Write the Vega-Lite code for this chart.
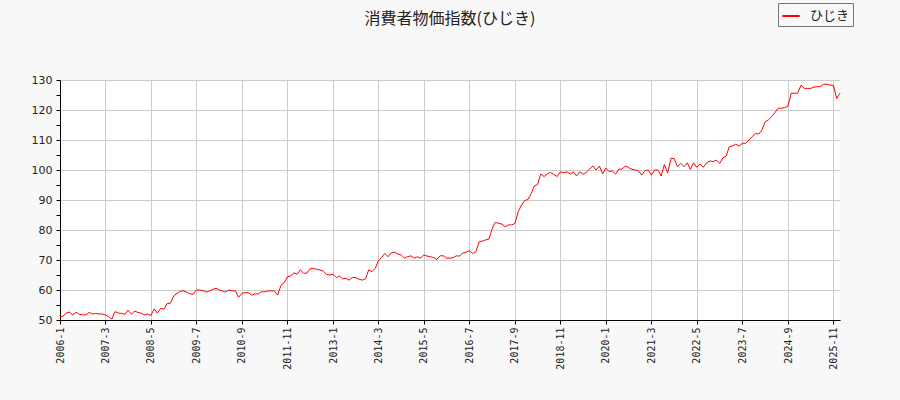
{
  "$schema": "https://vega.github.io/schema/vega-lite/v6.json",
  "width": 780,
  "height": 240,
  "autosize": "none",
  "padding": {"left": 60, "top": 80, "right": 60, "bottom": 80},
  "background": "#f8f8f8",
  "title": {
    "text": "消費者物価指数(ひじき)",
    "font": "Noto Sans CJK JP",
    "fontSize": 16,
    "fontWeight": "normal",
    "color": "#222222",
    "anchor": "middle",
    "baseline": "middle",
    "offset": -32
  },
  "config": {
    "view": {"fill": "#ffffff", "stroke": null},
    "axis": {
      "domainColor": "#000000",
      "tickColor": "#000000",
      "gridColor": "#cccccc",
      "labelColor": "#222222",
      "titleColor": "#222222"
    }
  },
  "data": {
    "values": [
      {"date": "2006-01-01", "value": 51.1}, {"date": "2006-02-01", "value": 51.3}, {"date": "2006-03-01", "value": 52.4}, {"date": "2006-04-01", "value": 52.6},
      {"date": "2006-05-01", "value": 51.7}, {"date": "2006-06-01", "value": 52.6}, {"date": "2006-07-01", "value": 51.9}, {"date": "2006-08-01", "value": 51.7},
      {"date": "2006-09-01", "value": 51.7}, {"date": "2006-10-01", "value": 52.6}, {"date": "2006-11-01", "value": 52.0}, {"date": "2006-12-01", "value": 52.2},
      {"date": "2007-01-01", "value": 52.0}, {"date": "2007-02-01", "value": 52.0}, {"date": "2007-03-01", "value": 51.7}, {"date": "2007-04-01", "value": 51.1},
      {"date": "2007-05-01", "value": 50.3}, {"date": "2007-06-01", "value": 52.8}, {"date": "2007-07-01", "value": 52.3}, {"date": "2007-08-01", "value": 52.2},
      {"date": "2007-09-01", "value": 51.9}, {"date": "2007-10-01", "value": 53.3}, {"date": "2007-11-01", "value": 51.9}, {"date": "2007-12-01", "value": 53.0},
      {"date": "2008-01-01", "value": 52.5}, {"date": "2008-02-01", "value": 52.3}, {"date": "2008-03-01", "value": 51.7}, {"date": "2008-04-01", "value": 52.0},
      {"date": "2008-05-01", "value": 51.5}, {"date": "2008-06-01", "value": 53.7}, {"date": "2008-07-01", "value": 52.3}, {"date": "2008-08-01", "value": 53.9},
      {"date": "2008-09-01", "value": 53.6}, {"date": "2008-10-01", "value": 55.5}, {"date": "2008-11-01", "value": 55.6}, {"date": "2008-12-01", "value": 58.0},
      {"date": "2009-01-01", "value": 58.9}, {"date": "2009-02-01", "value": 59.6}, {"date": "2009-03-01", "value": 59.7}, {"date": "2009-04-01", "value": 59.3},
      {"date": "2009-05-01", "value": 58.7}, {"date": "2009-06-01", "value": 58.6}, {"date": "2009-07-01", "value": 60.0}, {"date": "2009-08-01", "value": 60.0},
      {"date": "2009-09-01", "value": 59.8}, {"date": "2009-10-01", "value": 59.3}, {"date": "2009-11-01", "value": 59.7}, {"date": "2009-12-01", "value": 60.2},
      {"date": "2010-01-01", "value": 60.6}, {"date": "2010-02-01", "value": 60.0}, {"date": "2010-03-01", "value": 59.7}, {"date": "2010-04-01", "value": 59.3},
      {"date": "2010-05-01", "value": 60.0}, {"date": "2010-06-01", "value": 59.7}, {"date": "2010-07-01", "value": 59.7}, {"date": "2010-08-01", "value": 57.6},
      {"date": "2010-09-01", "value": 58.9}, {"date": "2010-10-01", "value": 59.1}, {"date": "2010-11-01", "value": 59.1}, {"date": "2010-12-01", "value": 58.3},
      {"date": "2011-01-01", "value": 58.7}, {"date": "2011-02-01", "value": 58.7}, {"date": "2011-03-01", "value": 59.4}, {"date": "2011-04-01", "value": 59.4},
      {"date": "2011-05-01", "value": 59.7}, {"date": "2011-06-01", "value": 59.7}, {"date": "2011-07-01", "value": 59.7}, {"date": "2011-08-01", "value": 58.3},
      {"date": "2011-09-01", "value": 61.5}, {"date": "2011-10-01", "value": 62.4}, {"date": "2011-11-01", "value": 64.4}, {"date": "2011-12-01", "value": 64.7},
      {"date": "2012-01-01", "value": 65.7}, {"date": "2012-02-01", "value": 65.3}, {"date": "2012-03-01", "value": 66.7}, {"date": "2012-04-01", "value": 65.6},
      {"date": "2012-05-01", "value": 65.6}, {"date": "2012-06-01", "value": 67.1}, {"date": "2012-07-01", "value": 67.2}, {"date": "2012-08-01", "value": 66.9},
      {"date": "2012-09-01", "value": 66.7}, {"date": "2012-10-01", "value": 66.3}, {"date": "2012-11-01", "value": 65.2}, {"date": "2012-12-01", "value": 65.0},
      {"date": "2013-01-01", "value": 65.3}, {"date": "2013-02-01", "value": 64.1}, {"date": "2013-03-01", "value": 64.7}, {"date": "2013-04-01", "value": 63.7},
      {"date": "2013-05-01", "value": 63.9}, {"date": "2013-06-01", "value": 63.3}, {"date": "2013-07-01", "value": 64.2}, {"date": "2013-08-01", "value": 64.1},
      {"date": "2013-09-01", "value": 63.6}, {"date": "2013-10-01", "value": 63.3}, {"date": "2013-11-01", "value": 63.7}, {"date": "2013-12-01", "value": 66.7},
      {"date": "2014-01-01", "value": 66.1}, {"date": "2014-02-01", "value": 67.2}, {"date": "2014-03-01", "value": 69.7}, {"date": "2014-04-01", "value": 70.9},
      {"date": "2014-05-01", "value": 72.2}, {"date": "2014-06-01", "value": 71.1}, {"date": "2014-07-01", "value": 72.4}, {"date": "2014-08-01", "value": 72.6},
      {"date": "2014-09-01", "value": 72.0}, {"date": "2014-10-01", "value": 71.7}, {"date": "2014-11-01", "value": 70.6}, {"date": "2014-12-01", "value": 71.1},
      {"date": "2015-01-01", "value": 71.4}, {"date": "2015-02-01", "value": 70.6}, {"date": "2015-03-01", "value": 71.1}, {"date": "2015-04-01", "value": 70.6},
      {"date": "2015-05-01", "value": 71.7}, {"date": "2015-06-01", "value": 71.3}, {"date": "2015-07-01", "value": 71.1}, {"date": "2015-08-01", "value": 70.8},
      {"date": "2015-09-01", "value": 70.2}, {"date": "2015-10-01", "value": 71.4}, {"date": "2015-11-01", "value": 71.4}, {"date": "2015-12-01", "value": 70.6},
      {"date": "2016-01-01", "value": 70.6}, {"date": "2016-02-01", "value": 70.8}, {"date": "2016-03-01", "value": 71.4}, {"date": "2016-04-01", "value": 71.3},
      {"date": "2016-05-01", "value": 72.4}, {"date": "2016-06-01", "value": 72.6}, {"date": "2016-07-01", "value": 73.1}, {"date": "2016-08-01", "value": 72.2},
      {"date": "2016-09-01", "value": 72.8}, {"date": "2016-10-01", "value": 76.1}, {"date": "2016-11-01", "value": 76.3}, {"date": "2016-12-01", "value": 76.7},
      {"date": "2017-01-01", "value": 77.0}, {"date": "2017-02-01", "value": 80.6}, {"date": "2017-03-01", "value": 82.6}, {"date": "2017-04-01", "value": 82.2},
      {"date": "2017-05-01", "value": 82.0}, {"date": "2017-06-01", "value": 81.1}, {"date": "2017-07-01", "value": 81.7}, {"date": "2017-08-01", "value": 81.7},
      {"date": "2017-09-01", "value": 82.2}, {"date": "2017-10-01", "value": 86.1}, {"date": "2017-11-01", "value": 88.3}, {"date": "2017-12-01", "value": 89.8},
      {"date": "2018-01-01", "value": 90.2}, {"date": "2018-02-01", "value": 92.2}, {"date": "2018-03-01", "value": 94.7}, {"date": "2018-04-01", "value": 95.2},
      {"date": "2018-05-01", "value": 98.7}, {"date": "2018-06-01", "value": 97.8}, {"date": "2018-07-01", "value": 98.7}, {"date": "2018-08-01", "value": 99.2},
      {"date": "2018-09-01", "value": 98.5}, {"date": "2018-10-01", "value": 97.8}, {"date": "2018-11-01", "value": 99.4}, {"date": "2018-12-01", "value": 99.1},
      {"date": "2019-01-01", "value": 99.4}, {"date": "2019-02-01", "value": 98.6}, {"date": "2019-03-01", "value": 99.4}, {"date": "2019-04-01", "value": 98.0},
      {"date": "2019-05-01", "value": 99.4}, {"date": "2019-06-01", "value": 98.6}, {"date": "2019-07-01", "value": 99.2}, {"date": "2019-08-01", "value": 100.3},
      {"date": "2019-09-01", "value": 101.4}, {"date": "2019-10-01", "value": 100.0}, {"date": "2019-11-01", "value": 101.3}, {"date": "2019-12-01", "value": 98.7},
      {"date": "2020-01-01", "value": 100.6}, {"date": "2020-02-01", "value": 99.4}, {"date": "2020-03-01", "value": 99.7}, {"date": "2020-04-01", "value": 98.6},
      {"date": "2020-05-01", "value": 100.3}, {"date": "2020-06-01", "value": 100.3}, {"date": "2020-07-01", "value": 101.4}, {"date": "2020-08-01", "value": 100.8},
      {"date": "2020-09-01", "value": 100.2}, {"date": "2020-10-01", "value": 100.0}, {"date": "2020-11-01", "value": 99.7}, {"date": "2020-12-01", "value": 98.3},
      {"date": "2021-01-01", "value": 99.8}, {"date": "2021-02-01", "value": 100.0}, {"date": "2021-03-01", "value": 98.3}, {"date": "2021-04-01", "value": 100.0},
      {"date": "2021-05-01", "value": 100.0}, {"date": "2021-06-01", "value": 98.0}, {"date": "2021-07-01", "value": 101.8}, {"date": "2021-08-01", "value": 99.0},
      {"date": "2021-09-01", "value": 103.9}, {"date": "2021-10-01", "value": 103.8}, {"date": "2021-11-01", "value": 101.1}, {"date": "2021-12-01", "value": 102.2},
      {"date": "2022-01-01", "value": 101.1}, {"date": "2022-02-01", "value": 102.4}, {"date": "2022-03-01", "value": 100.2}, {"date": "2022-04-01", "value": 102.4},
      {"date": "2022-05-01", "value": 100.9}, {"date": "2022-06-01", "value": 102.0}, {"date": "2022-07-01", "value": 100.9}, {"date": "2022-08-01", "value": 102.4},
      {"date": "2022-09-01", "value": 103.0}, {"date": "2022-10-01", "value": 102.8}, {"date": "2022-11-01", "value": 103.3}, {"date": "2022-12-01", "value": 102.2},
      {"date": "2023-01-01", "value": 104.1}, {"date": "2023-02-01", "value": 104.7}, {"date": "2023-03-01", "value": 107.8}, {"date": "2023-04-01", "value": 108.0},
      {"date": "2023-05-01", "value": 108.6}, {"date": "2023-06-01", "value": 108.0}, {"date": "2023-07-01", "value": 108.9}, {"date": "2023-08-01", "value": 108.9},
      {"date": "2023-09-01", "value": 110.0}, {"date": "2023-10-01", "value": 111.1}, {"date": "2023-11-01", "value": 112.2}, {"date": "2023-12-01", "value": 112.0},
      {"date": "2024-01-01", "value": 113.3}, {"date": "2024-02-01", "value": 116.1}, {"date": "2024-03-01", "value": 116.7}, {"date": "2024-04-01", "value": 117.8},
      {"date": "2024-05-01", "value": 119.1}, {"date": "2024-06-01", "value": 120.6}, {"date": "2024-07-01", "value": 120.6}, {"date": "2024-08-01", "value": 120.8},
      {"date": "2024-09-01", "value": 121.3}, {"date": "2024-10-01", "value": 125.6}, {"date": "2024-11-01", "value": 125.6}, {"date": "2024-12-01", "value": 125.6},
      {"date": "2025-01-01", "value": 128.3}, {"date": "2025-02-01", "value": 127.2}, {"date": "2025-03-01", "value": 127.2}, {"date": "2025-04-01", "value": 127.2},
      {"date": "2025-05-01", "value": 127.6}, {"date": "2025-06-01", "value": 127.8}, {"date": "2025-07-01", "value": 127.8}, {"date": "2025-08-01", "value": 128.6},
      {"date": "2025-09-01", "value": 128.6}, {"date": "2025-10-01", "value": 128.3}, {"date": "2025-11-01", "value": 128.2}, {"date": "2025-12-01", "value": 123.8},
      {"date": "2026-01-01", "value": 125.6}
    ]
  },
  "mark": {"type": "line", "strokeWidth": 1, "interpolate": "linear"},
  "encoding": {
    "x": {
      "field": "date",
      "type": "temporal",
      "scale": {
        "type": "utc",
        "nice": false,
        "domain": [{"year": 2006, "month": 1, "date": 1, "utc": true}, {"year": 2026, "month": 1, "date": 1, "utc": true}]
      },
      "axis": {
        "title": null,
        "values": [
          {"year": 2006, "month": 1, "date": 1, "utc": true},
          {"year": 2007, "month": 3, "date": 1, "utc": true},
          {"year": 2008, "month": 5, "date": 1, "utc": true},
          {"year": 2009, "month": 7, "date": 1, "utc": true},
          {"year": 2010, "month": 9, "date": 1, "utc": true},
          {"year": 2011, "month": 11, "date": 1, "utc": true},
          {"year": 2013, "month": 1, "date": 1, "utc": true},
          {"year": 2014, "month": 3, "date": 1, "utc": true},
          {"year": 2015, "month": 5, "date": 1, "utc": true},
          {"year": 2016, "month": 7, "date": 1, "utc": true},
          {"year": 2017, "month": 9, "date": 1, "utc": true},
          {"year": 2018, "month": 11, "date": 1, "utc": true},
          {"year": 2020, "month": 1, "date": 1, "utc": true},
          {"year": 2021, "month": 3, "date": 1, "utc": true},
          {"year": 2022, "month": 5, "date": 1, "utc": true},
          {"year": 2023, "month": 7, "date": 1, "utc": true},
          {"year": 2024, "month": 9, "date": 1, "utc": true},
          {"year": 2025, "month": 11, "date": 1, "utc": true}
        ],
        "labelExpr": "utcFormat(datum.value, '%Y-%-m')",
        "labelAngle": -90,
        "labelAlign": "right",
        "labelBaseline": "middle",
        "labelFont": "DejaVu Sans Mono",
        "labelFontSize": 10,
        "labelPadding": 3,
        "tickSize": 4,
        "labelOverlap": false,
        "grid": true
      }
    },
    "y": {
      "field": "value",
      "type": "quantitative",
      "scale": {"domain": [50, 130], "nice": false, "zero": false},
      "axis": {
        "title": null,
        "values": [50, 55, 60, 65, 70, 75, 80, 85, 90, 95, 100, 105, 110, 115, 120, 125, 130],
        "labelExpr": "datum.value % 10 === 0 ? datum.label : ''",
        "gridOpacity": {"condition": {"test": "datum.value % 10 === 0", "value": 1}, "value": 0},
        "labelFont": "DejaVu Sans",
        "labelFontSize": 11,
        "tickSize": 4,
        "labelPadding": 4,
        "grid": true
      }
    },
    "color": {
      "datum": "ひじき",
      "type": "nominal",
      "scale": {"range": ["#ff0000"]},
      "legend": {
        "title": null,
        "orient": "none",
        "legendX": 718,
        "legendY": -77,
        "symbolType": "stroke",
        "symbolStrokeWidth": 2,
        "symbolSize": 300,
        "labelFont": "Noto Sans CJK JP",
        "labelFontSize": 13,
        "labelColor": "#222222",
        "strokeColor": "#777777",
        "fillColor": "#f8f8f8",
        "padding": 3,
        "labelOffset": 9
      }
    }
  }
}
